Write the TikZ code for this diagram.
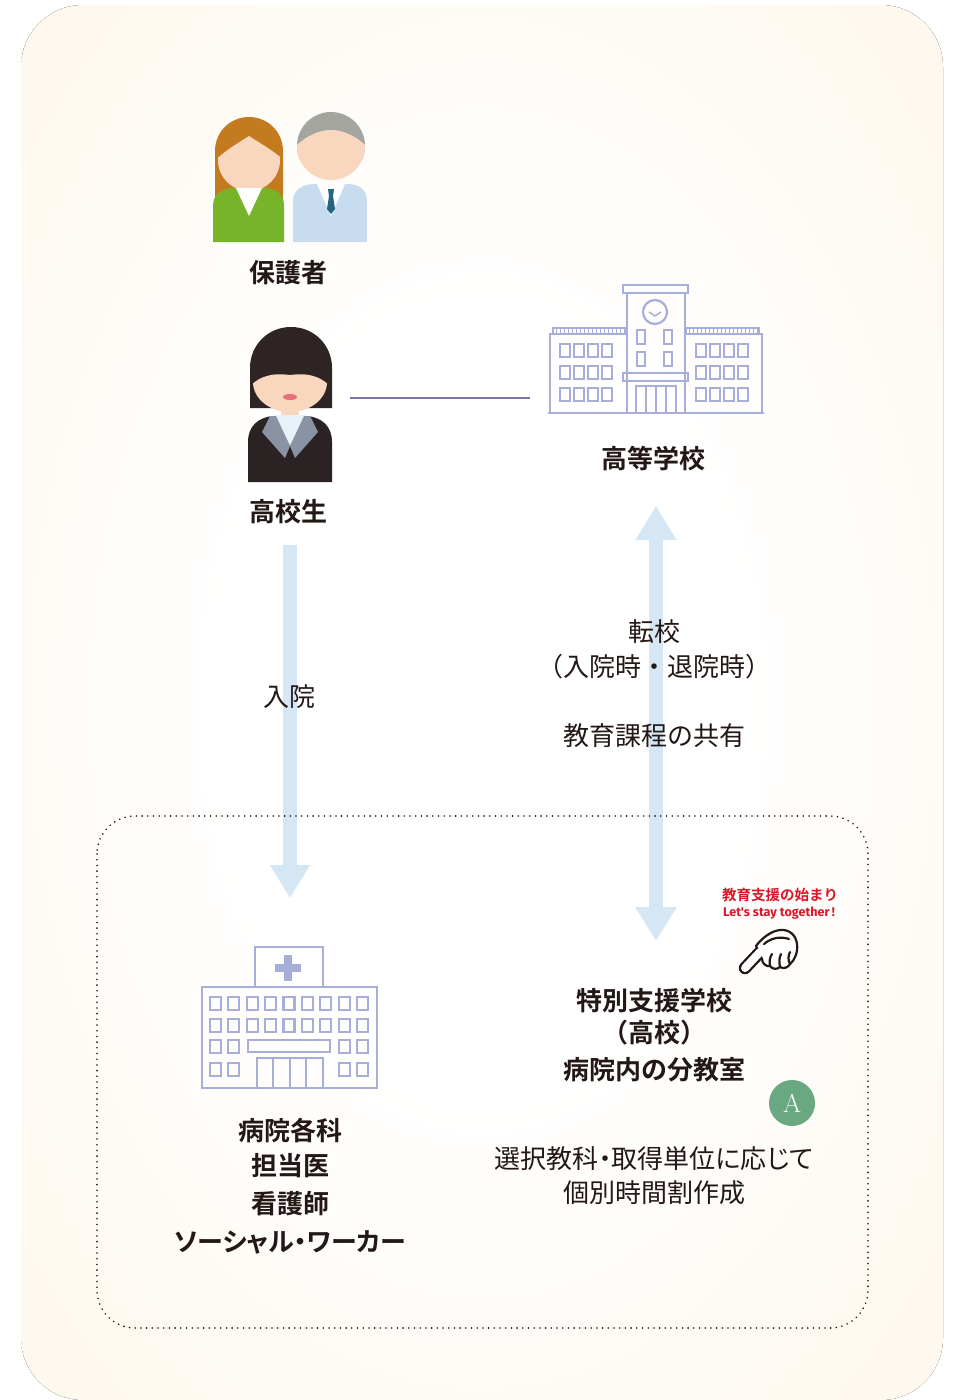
\documentclass[tikz,border=0pt]{standalone}
\usepackage{fontspec}
\usetikzlibrary{arrows.meta}
\newfontfamily\jp{Noto Sans CJK JP}[BoldFont={Noto Sans CJK JP Bold}]
\newfontfamily\jpp{Noto Sans CJK JP}[BoldFont={Noto Sans CJK JP Bold},RawFeature=+palt]
\newfontfamily\latinsans{Fira Sans}
\definecolor{cream}{RGB}{253,245,230}
\definecolor{ink}{RGB}{35,24,21}
\definecolor{bldblue}{RGB}{168,174,218}
\definecolor{arrowblue}{RGB}{213,230,245}
\definecolor{linkline}{RGB}{120,118,170}
\definecolor{redtxt}{RGB}{215,24,42}
\definecolor{agreen}{RGB}{106,168,130}
\definecolor{skin}{RGB}{249,214,190}
\definecolor{hairbrown}{RGB}{196,122,30}
\definecolor{dressgreen}{RGB}{120,180,42}
\definecolor{hairgray}{RGB}{165,165,160}
\definecolor{suitblue}{RGB}{200,220,240}
\definecolor{tieteal}{RGB}{40,100,130}
\definecolor{hairdark}{RGB}{46,36,36}
\definecolor{jacket}{RGB}{43,34,35}
\definecolor{lapel}{RGB}{138,147,163}
\definecolor{collar}{RGB}{232,240,248}
\definecolor{lip}{RGB}{232,112,122}
\pgfdeclareradialshading{panelglow}{\pgfpoint{0bp}{0bp}}{color(0bp)=(white); color(14bp)=(white); color(44bp)=(cream); color(100bp)=(cream)}
\begin{document}
\begin{tikzpicture}[x=1pt,y=-1pt,
  lbl/.style={font=\jp\bfseries\fontsize{26}{30}\selectfont, text=ink, inner sep=0pt},
  txt/.style={font=\jp\fontsize{26}{30}\selectfont, text=ink, inner sep=0pt},
  bld/.style={draw=bldblue, line width=2.2pt},
  bldthin/.style={draw=bldblue, line width=1pt},
  dotbox/.style={draw=ink, line width=1.8pt, dash pattern=on 0pt off 5.7pt, line cap=round, rounded corners=38pt},
  bigarrow/.style={draw=arrowblue, line width=14pt},
  handline/.style={draw=ink, line width=2.2pt, line cap=round, line join=round}]
\useasboundingbox (0,0) rectangle (953,1400);
\fill[white] (0,0) rectangle (953,1400);
% background panel
\fill[rounded corners=62pt, shading=panelglow] (21,5) rectangle (943,1400);

% ---------- parents ----------
% woman
\fill[hairbrown] (215,212) -- (215,151) .. controls (215,132) and (230,117) .. (249,117)
  .. controls (268,117) and (283,132) .. (283,151) -- (283,212) -- cycle;
\begin{scope}
  \clip (249,160) ellipse[x radius=31pt, y radius=31pt];
  \fill[skin] (210,165) .. controls (225,150) and (240,142) .. (249,136)
    .. controls (258,142) and (273,150) .. (290,165) -- (290,200) -- (210,200) -- cycle;
\end{scope}
\fill[dressgreen] (213,242) -- (213,206) .. controls (213,194) and (222,188) .. (235,188)
  -- (263,188) .. controls (276,188) and (284,194) .. (284,206) -- (284,242) -- cycle;
\fill[white] (236,188) -- (262,188) -- (249,216) -- cycle;
% man
\begin{scope}
  \clip (331,146) circle[radius=34pt];
  \fill[hairgray] (290,100) rectangle (372,160);
  \fill[skin] (290,152) .. controls (305,135) and (320,130) .. (331,130)
    .. controls (342,130) and (357,135) .. (372,152) -- (372,190) -- (290,190) -- cycle;
\end{scope}
\fill[suitblue] (293,242) -- (293,202) .. controls (293,190) and (302,184) .. (315,184)
  -- (347,184) .. controls (360,184) and (367,190) .. (367,202) -- (367,242) -- cycle;
\fill[white] (317,184) -- (345,184) -- (331,216) -- cycle;
\fill[tieteal] (328,189) -- (334,189) -- (333,196) -- (335,209) -- (331,214) -- (327,209) -- (329,196) -- cycle;
\node[lbl] (parentslbl) at (288,273) {保護者};

% ---------- student ----------
\fill[hairdark] (250,408) -- (250,368) .. controls (250,345) and (268,327) .. (291,327)
  .. controls (314,327) and (332,345) .. (332,368) -- (332,408) -- cycle;
\fill[skin] (281,405) rectangle (299,420);
\begin{scope}
  \clip (290,382) ellipse[x radius=37pt, y radius=30pt];
  \fill[skin] (245,392) .. controls (258,374) and (275,373) .. (290,375)
    .. controls (305,373) and (322,374) .. (335,392) -- (335,420) -- (245,420) -- cycle;
\end{scope}
\fill[lip] (290,397) ellipse[x radius=7pt, y radius=3pt];
\fill[jacket] (248,482) -- (248,442) .. controls (248,426) and (258,418) .. (272,416)
  -- (308,416) .. controls (322,418) and (332,426) .. (332,442) -- (332,482) -- cycle;
\fill[collar] (274,415) -- (306,415) -- (290,446) -- cycle;
\fill[lapel] (270,416) -- (276,416) -- (290,446) -- (285,458) -- (262,432) -- cycle;
\fill[lapel] (310,416) -- (304,416) -- (290,446) -- (295,458) -- (318,432) -- cycle;
\node[lbl] (studentlbl) at (288,512) {高校生};
\coordinate (studentR) at (350,398);

% ---------- high school building ----------
\draw[bld] (623,285) rectangle (688,293);
\draw[bld] (627,293) rectangle (685,413);
\draw[bld] (655,312) circle[radius=12pt];
\draw[bldthin, line width=1.5pt] (649,312) -- (655,316) -- (661,312);
\foreach \x in {637,664} \foreach \y in {330,352} \draw[bld] (\x,\y) rectangle ++(8,14);
\draw[bld] (623,373) rectangle (688,381);
\draw[bld] (636,386) rectangle (676,413);
\foreach \x in {646,656,666} \draw[bld] (\x,386) -- (\x,413);
\draw[bld] (550,413) -- (550,334) -- (627,334);
\draw[bld] (762,413) -- (762,334) -- (685,334);
\draw[bld] (548,413) -- (764,413);
\draw[bldthin, line width=1.5pt] (553,328) rectangle (626,334);
\draw[bldthin, line width=1.5pt] (686,328) rectangle (759,334);
\foreach \x in {556,560,...,624} \draw[bldthin] (\x,328) -- (\x,334);
\foreach \x in {689,693,...,757} \draw[bldthin] (\x,328) -- (\x,334);
\foreach \x in {560,574,588,602,696,710,724,738}
  \foreach \y in {344,366,388} \draw[bld] (\x,\y) rectangle ++(10,13);
\coordinate (schoolL) at (530,398);
\node[lbl] (schoollbl) at (653,459) {高等学校};

% connector student -- school
\draw[linkline, line width=1.4pt] (studentR) -- (schoolL);

% ---------- arrows ----------
\coordinate (admitA) at (290,545);
\coordinate (admitB) at (290,898);
\draw[bigarrow, -{Triangle[width=38pt,length=33pt]}] (admitA) -- (admitB);
\coordinate (transA) at (656,506);
\coordinate (transB) at (656,941);
\draw[bigarrow, {Triangle[width=39pt,length=34pt]}-{Triangle[width=39pt,length=34pt]}] (transA) -- (transB);

\node[txt] (admit) at (289,697) {入院};
\node[txt] (transfer) at (654,632) {転校};
\node[txt] (transferwhen) at (654,667) {（入院時・退院時）};
\node[txt] (curriculum) at (654,736) {教育課程の共有};

% ---------- dotted area ----------
\draw[dotbox] (97,816) rectangle (868,1328);

% ---------- hospital building ----------
\draw[bld] (255,987) -- (255,947) -- (323,947) -- (323,987);
\fill[bldblue] (284,955) rectangle (292,981);
\fill[bldblue] (275,964) rectangle (301,972);
\draw[bld] (202,987) rectangle (377,1088);
\foreach \i in {0,...,8} {
  \draw[bld] (210+18.375*\i,997) rectangle ++(11,13);
  \draw[bld] (210+18.375*\i,1019) rectangle ++(11,13);
}
\foreach \i in {0,1,7,8} {
  \draw[bld] (210+18.375*\i,1040) rectangle ++(11,13);
  \draw[bld] (210+18.375*\i,1063) rectangle ++(11,13);
}
\draw[bld] (248,1040) rectangle (330,1052);
\draw[bld] (257,1088) -- (257,1058) -- (323,1058) -- (323,1088);
\foreach \x in {273,290,306} \draw[bld] (\x,1058) -- (\x,1088);

\node[lbl] (dept) at (290,1130) {病院各科};
\node[lbl] (doctor) at (290,1166) {担当医};
\node[lbl] (nurse) at (290,1204) {看護師};
\node[lbl, font=\jpp\bfseries\fontsize{26}{30}\selectfont] (worker) at (290,1242) {ソーシャル・ワーカー};

% ---------- pointing hand & slogan ----------
\fill[white, opacity=0.4] (768,920) -- (808,955) -- (768,990) -- (728,955) -- cycle;
\node[inner sep=0pt, text=redtxt, font=\jp\bfseries\fontsize{14.5}{16}\selectfont] (slogan) at (780,895) {教育支援の始まり};
\node[inner sep=0pt, text=redtxt, font=\latinsans\bfseries\fontsize{12.6}{14}\selectfont] (sloganen) at (779,913) {Let's stay together\,!};
% index finger (outline first)
\draw[ink, line width=12.5pt, line cap=round] (745,968) -- (762,950);
% fist
\filldraw[handline, fill=white] (756,946) .. controls (762,938) and (771,931) .. (780,930)
  .. controls (789,929) and (796,935) .. (797,944)
  .. controls (798,952) and (795,960) .. (790,964)
  .. controls (788,968) and (783,969) .. (780,967)
  .. controls (777,970) and (772,969) .. (770,966)
  .. controls (766,967) and (762,963) .. (762,959) -- cycle;
% thumb and knuckles
\draw[handline] (764,944) .. controls (771,938) and (780,936) .. (789,939);
\draw[handline] (780,967) .. controls (779,962) and (779,958) .. (781,954);
\draw[handline] (770,966) .. controls (769,961) and (770,957) .. (772,954);
\draw[handline] (790,964) .. controls (788,960) and (788,956) .. (790,952);
% index finger (inside)
\draw[white, line width=8pt, line cap=round] (745,968) -- (760,952);

% ---------- special support school ----------
\node[lbl] (sss) at (654,1001) {特別支援学校};
\node[lbl] (ssshs) at (654,1033) {（高校）};
\node[lbl] (classroom) at (654,1070) {病院内の分教室};
\node[circle, fill=agreen, inner sep=0pt, minimum size=46pt, text=white,
      font=\fontsize{26}{26}\selectfont] (badge) at (792,1103) {A};
\node[txt, font=\jpp\fontsize{26}{30}\selectfont] (select) at (654,1159) {選択教科・取得単位に応じて};
\node[txt] (timetable) at (654,1193) {個別時間割作成};
\end{tikzpicture}
\end{document}
